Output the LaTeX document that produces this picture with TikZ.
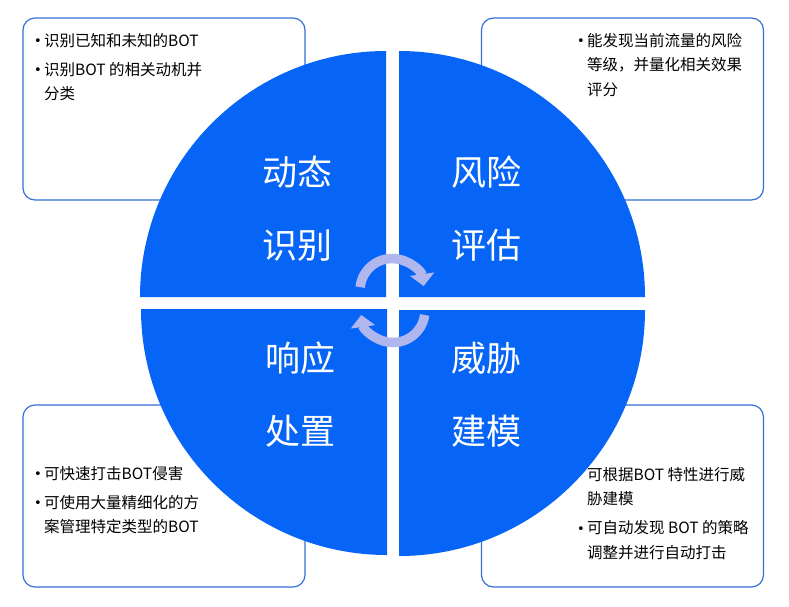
\documentclass[tikz,border=0pt]{standalone}
\usepackage{fontspec}
\setmainfont{Noto Sans CJK SC}
\newfontfamily\dotfont{DejaVu Sans}
\usetikzlibrary{arrows.meta}

\definecolor{quadblue}{RGB}{6,100,246}
\definecolor{boxline}{RGB}{52,112,214}
\definecolor{loopcolor}{RGB}{176,182,238}

\newcommand{\bul}{\makebox[10pt][l]{\raisebox{0.6pt}{\dotfont\fontsize{13}{13}\selectfont •}}}
\newcommand{\nobul}{\hspace*{10pt}}

\begin{document}
\begin{tikzpicture}[
        x=1pt, y=1pt,
        font=\fontsize{15.5}{24.5}\selectfont,
        infobox/.style={
            draw=boxline,
            line width=1.2pt,
            rounded corners=12pt,
            fill=white,
            minimum width=282pt,
            minimum height=182pt
        },
        infotext/.style={
            anchor=north west,
            inner sep=0pt,
            align=left
        },
        quadrant/.style={fill=quadblue},
        title/.style={
            text=white,
            align=center,
            font=\fontsize{35}{73}\selectfont
        },
        loop/.style={
            draw=loopcolor,
            line width=9.5pt,
            -{Triangle[length=12pt, width=24pt]}
        }
    ]
    \useasboundingbox (0,0) rectangle (789,-606);

    % outer boxes
    \node[infobox] (idbox) at (164,-109) {};
    \node[infobox] (riskbox) at (622.5,-109) {};
    \node[infobox] (respbox) at (164,-496) {};
    \node[infobox] (threatbox) at (622.5,-496) {};

    % four quarters of the disc
    \fill[quadrant] (386,-297) -- ++(180:246) arc[start angle=180, end angle=90, radius=246] -- cycle;
    \fill[quadrant] (399,-297) -- ++(90:246) arc[start angle=90, end angle=0, radius=246] -- cycle;
    \fill[quadrant] (387,-309) -- ++(270:246) arc[start angle=270, end angle=180, radius=246] -- cycle;
    \fill[quadrant] (399,-310) -- ++(0:246) arc[start angle=0, end angle=-90, radius=246] -- cycle;

    \node[title] (ident) at (297,-208.5) {动态\\识别};
    \node[title] (assess) at (486,-208.5) {风险\\评估};
    \node[title] (respond) at (300,-395) {响应\\处置};
    \node[title] (model) at (486,-395) {威胁\\建模};

    % cycle arrows
    \draw[loop] (392,-290.5) ++(174:32) arc[start angle=174, end angle=8, radius=32];
    \draw[loop] (393,-310.5) ++(-8:32) arc[start angle=-8, end angle=-172, radius=32];

    \node[infotext] (idtext) at (34,-33)
        {\bul 识别已知和未知的BOT\\[4.5pt]
         \bul 识别BOT 的相关动机并\\
         \nobul 分类};
    \node[infotext] (risktext) at (577,-33)
        {\bul 能发现当前流量的风险\\
         \nobul 等级，并量化相关效果\\
         \nobul 评分};
    \node[infotext] (resptext) at (34,-466)
        {\bul 可快速打击BOT侵害\\[4.5pt]
         \bul 可使用大量精细化的方\\
         \nobul 案管理特定类型的BOT};
    \node[infotext] (threattext) at (577,-467)
        {\nobul 可根据BOT 特性进行威\\
         \nobul 胁建模\\[4.5pt]
         \bul 可自动发现 BOT 的策略\\
         \nobul 调整并进行自动打击};

\end{tikzpicture}
\end{document}
